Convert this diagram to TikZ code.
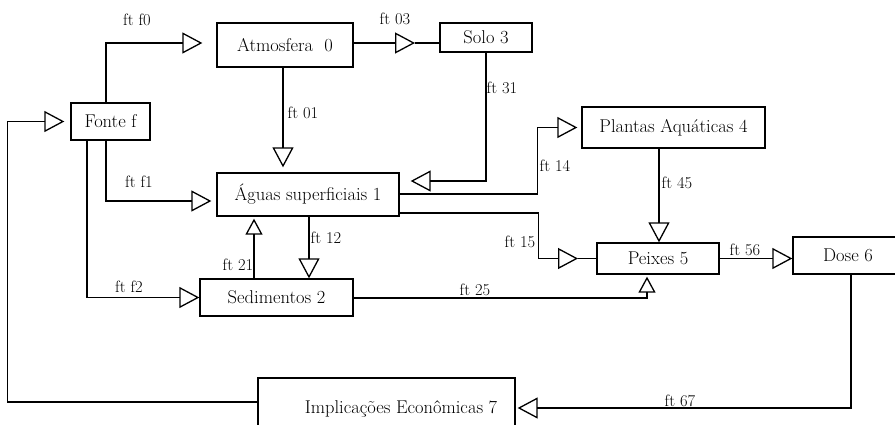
\documentclass[tikz,border=0pt]{standalone}
\usepackage{fontspec}
\setmainfont{Latin Modern Roman}
\usetikzlibrary{arrows.meta}
\begin{document}
\begin{tikzpicture}[x=1pt,y=-1pt,
  box/.style={draw, line width=1.3pt, inner sep=0pt, font=\fontsize{18.5}{21}\selectfont},
  conn/.style={line width=1.3pt},
  tri/.style={-{Triangle[open,length=20pt,width=21pt]}},
  trismall/.style={-{Triangle[open,length=16pt,width=17pt]}},
  lbl/.style={inner sep=0pt, font=\fontsize{16.5}{19}\selectfont}]
\useasboundingbox (0,0) rectangle (895,424);
\clip (0,0) rectangle (895,424);
% boxes
\node[box, minimum width=79pt, minimum height=37pt] (fonte) at (110.5,121.5) {Fonte f};
\node[box, minimum width=136pt, minimum height=44pt] (atm) at (285,45) {Atmosfera\ \ 0};
\node[box, minimum width=92pt, minimum height=29pt] (solo) at (486,37.5) {Solo 3};
\node[box, minimum width=182pt, minimum height=43pt] (agua) at (308,194.5) {Águas superficiais 1};
\node[box, minimum width=183pt, minimum height=41pt] (plantas) at (673.5,127.5) {Plantas Aquáticas 4};
\node[box, minimum width=153pt, minimum height=37pt] (sed) at (276.5,297.5) {Sedimentos 2};
\node[box, minimum width=122pt, minimum height=31pt] (peixes) at (658,258.5) {Peixes 5};
\node[box, minimum width=110pt, minimum height=37pt] (dose) at (848,255.5) {Dose 6};
\node[box, minimum width=257pt, minimum height=62pt] (impl) at (386.5,409) {\hspace*{29pt}\raisebox{3pt}{Implicações Econômicas 7}};
% coordinates for mid-line triangles
\coordinate (t03) at (415,43);
\coordinate (t15) at (578,258.5);
% connectors
\draw[conn,tri] ([xshift=-4.5pt]fonte.north) |- ([xshift=-14pt,yshift=2pt]atm.west);
\draw[conn,tri] (atm.east |- t03) -- (t03);
\draw[conn] (t03) -- (solo.west |- t03);
\draw[conn,tri] ([xshift=-2pt]atm.south) -- ([xshift=-25pt,yshift=5pt]agua.north);
\draw[conn,tri] (solo.south) |- ([xshift=11pt,yshift=13.5pt]agua.east);
\draw[conn,tri] ([yshift=0.5pt]agua.east) -- ++(138,0) |- ([xshift=-4pt]plantas.west);
\draw[conn,tri] ([yshift=-18.5pt]agua.east) -- ++(139,0) |- (t15);
\draw[conn] (t15) -- (peixes.west);
\draw[conn,tri] ([xshift=-4.5pt]fonte.south) |- ([xshift=-5pt,yshift=-6.5pt]agua.west);
\draw[conn,tri] ([xshift=-23.5pt]fonte.south) |- (sed.west);
\draw[conn,tri] ([xshift=1pt]agua.south) -- ([xshift=32.5pt]sed.north);
\draw[conn,trismall] ([xshift=-22.5pt]sed.north) -- ([xshift=-54pt,yshift=-2pt]agua.south);
\draw[conn,trismall] ([yshift=-0.5pt]sed.east) -| ([xshift=-11pt,yshift=-2pt]peixes.south);
\draw[conn,tri] ([xshift=-14.5pt]plantas.south) -- ([xshift=1pt]peixes.north);
\draw[conn,tri] (peixes.east) -- (dose.west |- peixes.east);
\draw[conn,tri] ([xshift=3pt]dose.south) |- ([xshift=2pt,yshift=1pt]impl.east);
\draw[conn,tri] ([yshift=7pt]impl.west) -- ++(-250,0) |- ([xshift=-6pt]fonte.west);
% labels
\node[lbl] (lf0) at (137,20) {ft f0};
\node[lbl] (l03) at (395,19) {ft 03};
\node[lbl] (l01) at (303,113) {ft 01};
\node[lbl] (l31) at (502,88) {ft 31};
\node[lbl] (l14) at (555,166) {ft 14};
\node[lbl] (l45) at (677,183) {ft 45};
\node[lbl] (lf1) at (139,182) {ft f1};
\node[lbl] (lf2) at (129,287) {ft f2};
\node[lbl] (l21) at (238,265) {ft 21};
\node[lbl] (l12) at (326,238) {ft 12};
\node[lbl] (l15) at (520,242) {ft 15};
\node[lbl] (l25) at (475,290) {ft 25};
\node[lbl] (l56) at (745,250) {ft 56};
\node[lbl] (l67) at (680,401) {ft 67};
\end{tikzpicture}
\end{document}
